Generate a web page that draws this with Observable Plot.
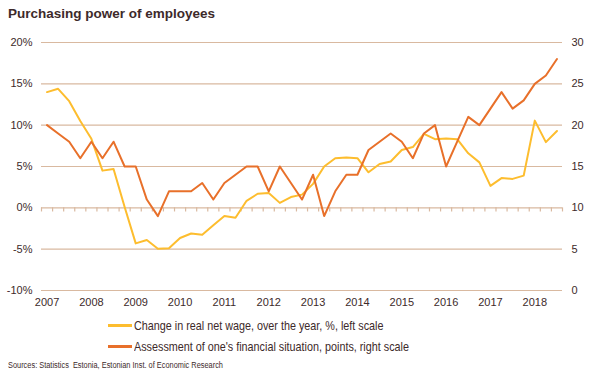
<!DOCTYPE html>
<html><head><meta charset="utf-8">
<script src="https://cdn.jsdelivr.net/npm/d3@7"></script>
<script src="https://cdn.jsdelivr.net/npm/@observablehq/plot@0.6"></script>
<style>
body{margin:0;background:#fff;}
#wrap{position:relative;width:605px;height:378px;font-family:"Liberation Sans",Arial,sans-serif;color:#3d2a2a;}
#title{position:absolute;left:8px;top:6px;font-weight:bold;font-size:13.5px;}
#chart{position:absolute;left:0;top:0;}
.leg{position:absolute;left:108px;font-size:13px;display:flex;align-items:center;white-space:nowrap;}
.leg span.sw{display:inline-block;width:24px;height:2.5px;margin-right:2px;}
.leg span.tx{display:inline-block;transform:scaleX(0.83);transform-origin:left center;}
#src{position:absolute;left:8px;top:360px;font-size:8.5px;white-space:nowrap;transform:scaleX(0.87);transform-origin:left center;}
</style></head>
<body><div id="wrap">
<div id="title">Purchasing power of employees</div>
<div id="chart"></div>
<div class="leg" style="top:318px"><span class="sw" style="background:#fdbd2e"></span><span class="tx">Change in real net wage, over the year, %, left scale</span></div>
<div class="leg" style="top:339px"><span class="sw" style="background:#e8702a"></span><span class="tx">Assessment of one's financial situation, points, right scale</span></div>
<div id="src">Sources: Statistics&nbsp; Estonia, Estonian Inst. of Economic Research</div>
</div>
<script>
const years = [2007,2008,2009,2010,2011,2012,2013,2014,2015,2016,2017,2018];
// real net wage change, % (left scale), 2007Q1..2018Q3
const wage = [14.0,14.4,12.9,10.5, 8.35,4.5,4.7,0.1, -4.3,-3.9,-4.95,-4.9, -3.65,-3.1,-3.25,-2.1,
  -1.0,-1.2,0.85,1.7, 1.8,0.6,1.3,1.6, 2.9,5.0,6.0,6.1, 6.0,4.3,5.3,5.6,
  7.0,7.35,8.95,8.3, 8.4,8.3,6.6,5.5, 2.65,3.6,3.5,3.9, 10.55,7.95,9.3];
// assessment of financial situation, points (right scale)
const assess = [20,19,18,16, 18,16,18,15, 15,11,9,12, 12,12,13,11,
  13,14,15,15, 12,15,13,11, 14,9,12,14, 14,17,18,19,
  18,16,19,20, 15,18,21,20, 22,24,22,23, 25,26,28];
const leftTicks = [-10,-5,0,5,10,15,20];
const rightOffset = 10; // right = left + 10

const t = i => years[0] + i/4;
const wageData = wage.map((v,i)=>({t:t(i), v}));
const assessData = assess.map((v,i)=>({t:t(i), v}));
const catEdges = d3.range(wage.length+1).map(i => t(i) - 0.125);

const txt = "#3d2a2a", grid = "#d9b9a0";
const plot = Plot.plot({
  width:605, height:318,
  marginTop:42, marginBottom:28, marginLeft:41, marginRight:43,
  style:{fontFamily:"'Liberation Sans',Arial,sans-serif", fontSize:"11px", color:txt, background:"transparent"},
  x:{domain:[years[0]-0.125, t(wage.length-1)+0.125]},
  y:{domain:[-10,20]},
  marks:[
    Plot.ruleY(leftTicks,{stroke:grid, strokeWidth:1.2}),
    Plot.ruleX(catEdges,{x:d=>d, y1:0, y2:-0.5, stroke:grid, strokeWidth:1.2}),
    Plot.axisY({anchor:"left", ticks:leftTicks, tickSize:0, tickPadding:9, tickFormat:d=>d+"%", label:null, fill:txt}),
    Plot.axisY({anchor:"right", ticks:leftTicks, tickSize:0, tickPadding:9, tickFormat:d=>String(d+rightOffset), label:null, fill:txt, textAnchor:"start"}),
    Plot.axisX({ticks:years, tickSize:0, tickPadding:8, tickFormat:d=>String(d), label:null, fill:txt}),
    Plot.line(wageData,{x:"t", y:"v", stroke:"#fdbd2e", strokeWidth:2}),
    Plot.line(assessData,{x:"t", y:d=>d.v-rightOffset, stroke:"#e8702a", strokeWidth:2})
  ]
});
document.getElementById("chart").appendChild(plot);
</script>
</body></html>
